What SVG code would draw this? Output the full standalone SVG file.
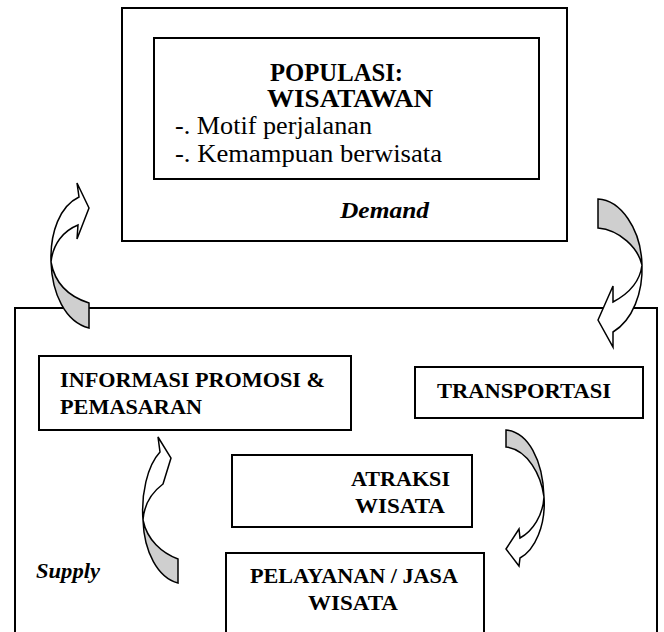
<svg xmlns="http://www.w3.org/2000/svg" width="664" height="632" viewBox="0 0 664 632">
<style>
.box{fill:none;stroke:#000;stroke-width:2}
.t{font-family:"Liberation Serif","Times New Roman",serif;fill:#000}
.b{font-weight:bold}
.i{font-style:italic}
.arw{fill:#fff;stroke:#000;stroke-width:1.5;stroke-linejoin:miter}
.back{fill:#cfcfcf;stroke:#000;stroke-width:1.5}
</style>
<rect width="664" height="632" fill="#fff"/>
<g id="demand">
<rect class="box" x="122" y="8" width="445" height="233"/>
<text class="t b i" x="340" y="218" font-size="24" textLength="89" lengthAdjust="spacingAndGlyphs">Demand</text>
</g>
<g id="populasi">
<rect class="box" x="154" y="38" width="385" height="141"/>
<text class="t b" x="270" y="81" font-size="25" textLength="133" lengthAdjust="spacingAndGlyphs">POPULASI:</text>
<text class="t b" x="267" y="107" font-size="25" textLength="166" lengthAdjust="spacingAndGlyphs">WISATAWAN</text>
<text class="t" x="175" y="134" font-size="25" textLength="197" lengthAdjust="spacingAndGlyphs">-. Motif perjalanan</text>
<text class="t" x="175" y="162" font-size="25" textLength="267" lengthAdjust="spacingAndGlyphs">-. Kemampuan berwisata</text>
</g>
<g id="supply">
<rect class="box" x="15" y="308" width="642" height="340"/>
<text class="t b i" x="36" y="578" font-size="20" textLength="64" lengthAdjust="spacingAndGlyphs">Supply</text>
</g>
<g id="informasi">
<rect class="box" x="39" y="356" width="312" height="74"/>
<text class="t b" x="60" y="387" font-size="22" textLength="265" lengthAdjust="spacingAndGlyphs">INFORMASI PROMOSI &amp;</text>
<text class="t b" x="60" y="414" font-size="22" textLength="142" lengthAdjust="spacingAndGlyphs">PEMASARAN</text>
</g>
<g id="transportasi">
<rect class="box" x="415" y="367" width="228" height="51"/>
<text class="t b" x="437" y="398" font-size="22" textLength="174" lengthAdjust="spacingAndGlyphs">TRANSPORTASI</text>
</g>
<g id="atraksi">
<rect class="box" x="232" y="455" width="240" height="72"/>
<text class="t b" x="351" y="486" font-size="22" textLength="99" lengthAdjust="spacingAndGlyphs">ATRAKSI</text>
<text class="t b" x="355" y="513" font-size="22" textLength="90" lengthAdjust="spacingAndGlyphs">WISATA</text>
</g>
<g id="pelayanan">
<rect class="box" x="226" y="553" width="258" height="100"/>
<text class="t b" x="250" y="583" font-size="22" textLength="208" lengthAdjust="spacingAndGlyphs">PELAYANAN / JASA</text>
<text class="t b" x="308" y="610" font-size="22" textLength="90" lengthAdjust="spacingAndGlyphs">WISATA</text>
</g>
<g id="connectors">
<g id="arrow-supply-demand">
<path class="back" d="M51,262 C52,293 65,322 89,328 L89,303 C70,297 55,284 51,262 Z"/>
<path class="arw" d="M77,183 L89,208 L77,239 L78,225 C63,231 53,244 51,262 C50,232 60,206 79,197 Z"/>
</g>
<g id="arrow-demand-supply">
<path class="back" d="M598,199 C620,200 641,228 642,265 C638,248 620,230 598,228 Z"/>
<path class="arw" d="M598,320 L613,286 L613,302 C630,293 640,282 642,265 C643,292 633,320 613,332 L613,347 Z"/>
</g>
<g id="arrow-supply-informasi">
<path class="back" d="M143,520 C144,552 158,578 178,583 L178,559 C162,553 147,540 143,520 Z"/>
<path class="arw" d="M158,437 L171,458 L163,484 C151,493 144,506 143,520 C141,495 147,466 160,452 Z"/>
</g>
<g id="arrow-transportasi-pelayanan">
<path class="back" d="M506,430 C528,432 543,460 544,497 C541,475 528,450 506,447 Z"/>
<path class="arw" d="M506,549 L519,529 L520,538 C533,531 543,515 544,497 C546,525 535,550 520,558 L519,566 Z"/>
</g>
</g>
</svg>
